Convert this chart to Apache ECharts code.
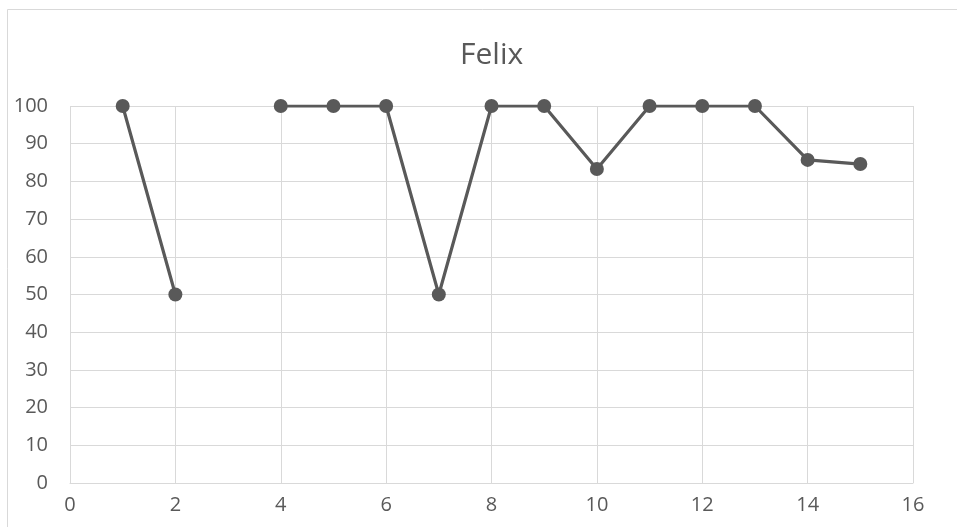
<!DOCTYPE html>
<html>
<head>
<meta charset="utf-8">
<script src="https://cdn.jsdelivr.net/npm/echarts@6/dist/echarts.min.js"></script>
<style>
  html, body { margin: 0; padding: 0; background: #fff; }
  #chart { width: 957px; height: 527px; }
</style>
</head>
<body>
<div id="chart"></div>
<script>
// Felix: score per session (session 3 has no value)
const sessions = [1, 2, 3, 4, 5, 6, 7, 8, 9, 10, 11, 12, 13, 14, 15];
const scores = [100, 50, null, 100, 100, 100, 50, 100, 100, 83.3, 100, 100, 100, 85.7, 84.6];
const chartTitle = 'Felix';

const points = sessions.map((s, i) => [s, scores[i]]);

const textColor = '#595959';
const gridColor = '#d9d9d9';
const fontFamily = '"Open Sans", sans-serif';

const chart = echarts.init(document.getElementById('chart'));
chart.setOption({
  animation: false,
  backgroundColor: '#fff',
  title: {
    text: chartTitle,
    left: 455,
    top: 35,
    textStyle: { color: textColor, fontSize: 30, fontWeight: 'normal', fontFamily }
  },
  graphic: [{
    type: 'rect',
    shape: { x: 7.5, y: 9.5, width: 1000, height: 600 },
    style: { fill: 'none', stroke: gridColor, lineWidth: 1 },
    silent: true
  }],
  grid: { left: 70, right: 44, top: 106, bottom: 44, containLabel: false },
  xAxis: {
    type: 'value',
    min: 0, max: 16, interval: 2,
    axisLine: { show: true, lineStyle: { color: gridColor, width: 1 } },
    axisTick: { show: false },
    splitLine: { show: true, lineStyle: { color: gridColor, width: 1 } },
    axisLabel: { color: textColor, fontSize: 20, fontFamily, margin: 12 }
  },
  yAxis: {
    type: 'value',
    min: 0, max: 100, interval: 10,
    axisLine: { show: false },
    axisTick: { show: false },
    splitLine: { show: true, lineStyle: { color: gridColor, width: 1 } },
    axisLabel: { color: textColor, fontSize: 20, fontFamily, margin: 22 }
  },
  series: [{
    type: 'line',
    data: points,
    connectNulls: false,
    symbol: 'circle',
    symbolSize: 14,
    lineStyle: { color: '#595959', width: 3.2 },
    itemStyle: { color: '#595959' }
  }]
});
</script>
</body>
</html>
